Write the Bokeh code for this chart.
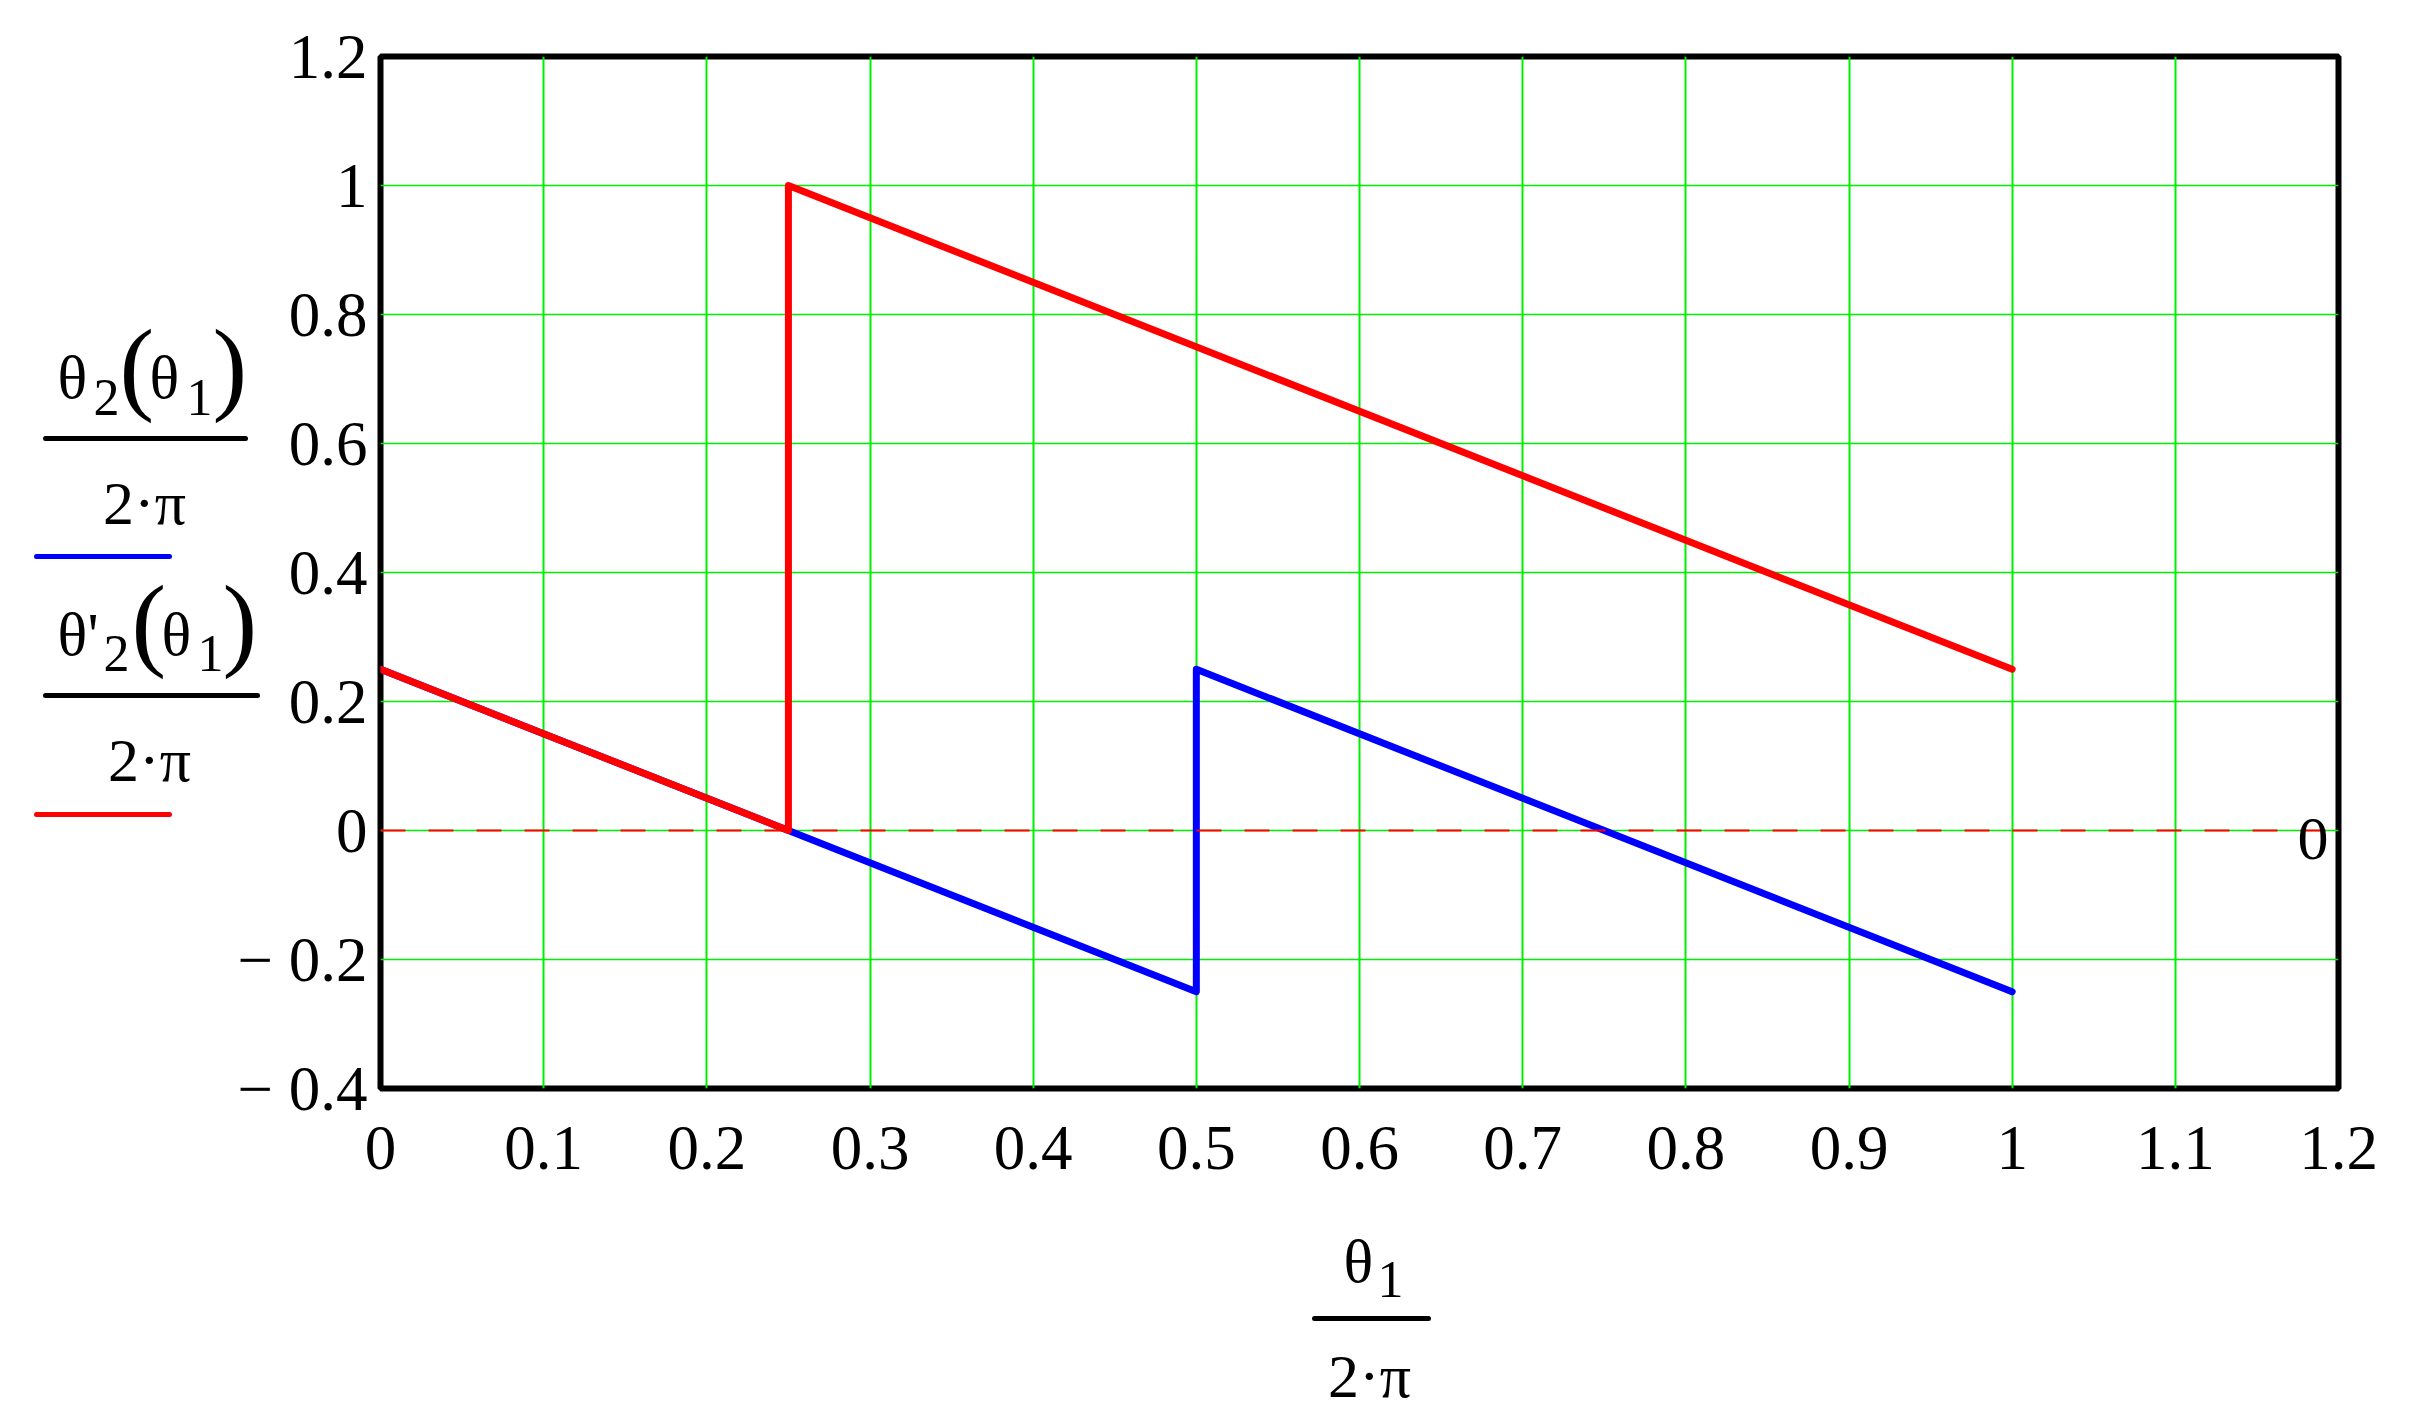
from bokeh.plotting import figure
from bokeh.models import Range1d, FixedTicker, Span, ColumnDataSource
from bokeh.core.properties import value
from bokeh.embed import file_html
from bokeh.resources import INLINE

# ---------------- data ----------------
x_ticks = [0, 0.1, 0.2, 0.3, 0.4, 0.5, 0.6, 0.7, 0.8, 0.9, 1.0, 1.1, 1.2]
x_tick_labels = ["0", "0.1", "0.2", "0.3", "0.4", "0.5", "0.6", "0.7", "0.8", "0.9", "1", "1.1", "1.2"]
y_ticks = [-0.4, -0.2, 0, 0.2, 0.4, 0.6, 0.8, 1.0, 1.2]
y_tick_labels = ["\u2212 0.4", "\u2212 0.2", "0", "0.2", "0.4", "0.6", "0.8", "1", "1.2"]

# theta2(theta1)/(2 pi)  (blue)
blue_x = [0.0, 0.25, 0.5, 0.5, 1.0]
blue_y = [0.25, 0.0, -0.25, 0.25, -0.25]
# theta'2(theta1)/(2 pi)  (red)
red_x = [0.0, 0.25, 0.25, 1.0]
red_y = [0.25, 0.0, 1.0, 0.25]

# ---------------- layout (page pixels) ----------------
FL, FT, FW, FH = 380, 56, 1958, 1032
W, H = 2424, 1418
XMIN, XMAX, YMIN, YMAX = 0.0, 1.2, -0.4, 1.2
FONT = "Liberation Serif"

p = figure(frame_width=FW, frame_height=FH, width=W, height=H,
           x_range=Range1d(XMIN, XMAX), y_range=Range1d(YMIN, YMAX),
           min_border_left=FL, min_border_top=FT,
           min_border_right=W - FL - FW, min_border_bottom=H - FT - FH,
           output_backend="svg", toolbar_location=None)

p.background_fill_color = "white"
p.border_fill_color = "white"
p.outline_line_color = "black"
p.outline_line_width = 6

for ax in (p.xaxis[0], p.yaxis[0]):
    ax.axis_line_color = None
    ax.major_tick_line_color = None
    ax.minor_tick_line_color = None
    ax.major_label_text_font = FONT
    ax.major_label_text_font_size = "63px"
    ax.major_label_text_color = "black"

p.xaxis[0].ticker = FixedTicker(ticks=x_ticks)
p.yaxis[0].ticker = FixedTicker(ticks=y_ticks)
p.xaxis[0].major_label_overrides = {t: s for t, s in zip(x_ticks, x_tick_labels)}
p.yaxis[0].major_label_overrides = {t: s for t, s in zip(y_ticks, y_tick_labels)}
p.xaxis[0].major_label_standoff = 32
p.yaxis[0].major_label_standoff = 7

p.xgrid.grid_line_color = "#00ee00"
p.xgrid.grid_line_width = 2
p.ygrid.grid_line_color = "#00ee00"
p.ygrid.grid_line_width = 1.5

# zero marker line (red dashed)
p.add_layout(Span(location=0, dimension="width", line_color="#ff0000",
                  line_width=2, line_dash="25 23"))

# curves
p.line(blue_x, blue_y, line_color="#0000ff", line_width=7, line_join="round", line_cap="round")
p.line(red_x, red_y, line_color="#ff0000", line_width=7, line_join="round", line_cap="round")


# ---------------- annotations (placed by page pixel) ----------------
def dx(px):
    return XMIN + (px - FL) / FW * (XMAX - XMIN)


def dy(py):
    return YMAX - (py - FT) / FH * (YMAX - YMIN)


T = dict(x=[], y=[], text=[], size=[], align=[])


def txt(px, py, s, size=62, align="left"):
    # py is the wanted ink baseline; correct for the renderer's baseline offset
    T["x"].append(dx(px))
    T["y"].append(dy(py - 0.4 * size))
    T["text"].append(s)
    T["size"].append(f"{size}px")
    T["align"].append(align)


S = dict(x0=[], x1=[], y=[], color=[])


def hline(x0, x1, py, color="black"):
    S["x0"].append(dx(x0))
    S["x1"].append(dx(x1))
    S["y"].append(dy(py))
    S["color"].append(color)


PS = 104  # parenthesis size

# legend entry 1: theta2(theta1) / 2pi
txt(57, 401, "\u03b8")
txt(93, 418, "2", 52)
txt(119, 407, "(", PS)
txt(149, 401, "\u03b8")
txt(186, 418, "1", 52)
txt(212, 407, ")", PS)
hline(45, 245, 438)
txt(144, 527, "2\u00b7\u03c0", align="center")
hline(36, 169, 556, "#0000ff")

# legend entry 2: theta'2(theta1) / 2pi
txt(57, 658, "\u03b8")
txt(87, 658, "'")
txt(103, 674, "2", 52)
txt(131, 663, "(", PS)
txt(161, 658, "\u03b8")
txt(197, 674, "1", 52)
txt(222, 663, ")", PS)
hline(45, 257, 695)
txt(149, 784, "2\u00b7\u03c0", align="center")
hline(36, 169, 814, "#ff0000")

# x-axis title: theta1 / 2pi
txt(1343, 1285, "\u03b8")
txt(1377, 1300, "1", 52)
hline(1314, 1428, 1318)
txt(1369, 1400, "2\u00b7\u03c0", align="center")

# marker value label
txt(2297, 863, "0")

p.segment(x0="x0", x1="x1", y0="y", y1="y", color="color", line_width=5,
          line_cap="round", source=ColumnDataSource(S), level="overlay")
p.text(x="x", y="y", text="text", text_font=value(FONT), text_font_size="size",
       text_align="align", text_baseline="alphabetic", text_color="black",
       source=ColumnDataSource(T), level="overlay")

open("out.html", "w").write(file_html(p, INLINE))
